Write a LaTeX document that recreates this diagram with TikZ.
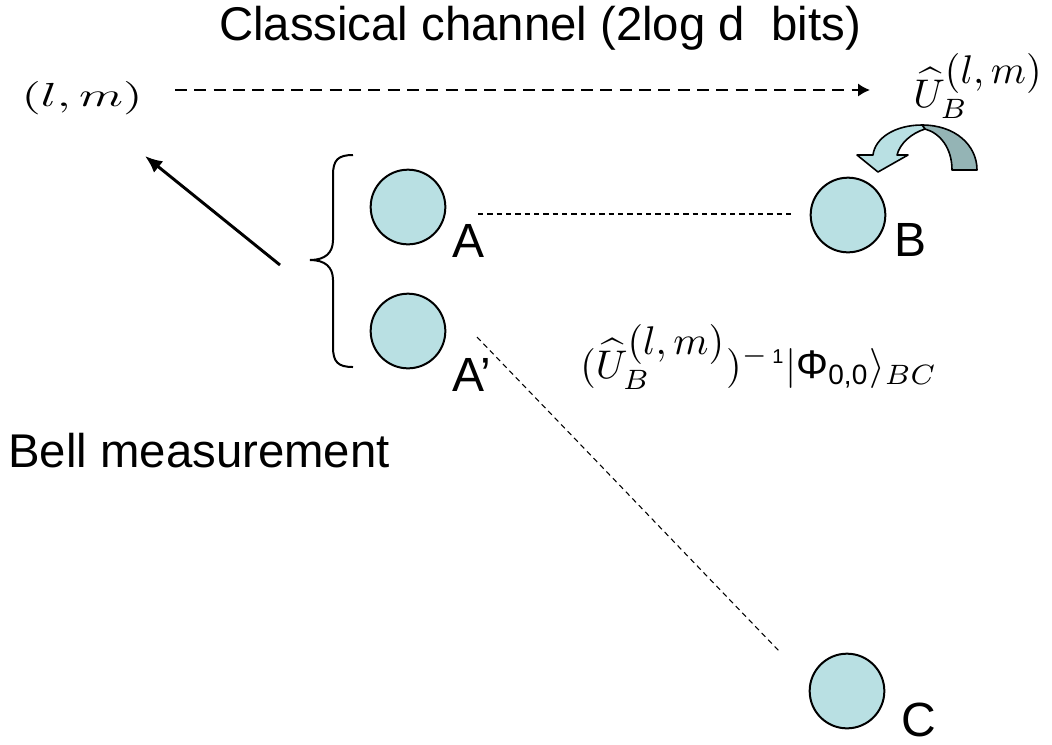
\RequirePackage{fix-cm}
\documentclass[tikz,border=0pt]{standalone}
\usepackage{amsmath}
\usepackage{graphicx}
\usepackage[no-math]{fontspec}
\setmainfont{Liberation Sans}
\usetikzlibrary{arrows.meta}
\definecolor{qubitfill}{RGB}{185,224,227}
\definecolor{turnback}{RGB}{148,180,181}
\tikzset{
  qubit/.style={circle, draw, line width=1.5pt, fill=qubitfill, minimum size=56pt, inner sep=0pt},
  lbl/.style={font=\fontsize{36}{43}\selectfont, inner sep=0pt, anchor=base west},
  bigtext/.style={font=\fontsize{35.5}{42}\selectfont, inner sep=0pt},
  mathlbl/.style={inner sep=0pt, font=\normalsize},
  entangled/.style={line width=0.8pt, dash pattern=on 4pt off 3pt},
  classical/.style={line width=1.5pt, dash pattern=on 9pt off 5.5pt, -{Latex[length=9pt,width=10pt]}},
  measure/.style={line width=2.2pt, -{Latex[length=13pt,width=11pt]}},
  brace/.style={line width=1.5pt}
}
\begin{document}
\begin{tikzpicture}[x=0.75pt,y=-0.75pt]
\useasboundingbox (0,0) rectangle (1052,744);

% qubits
\node[qubit] (A) at (408,207) {};
\node[qubit] (A2) at (408,331) {};
\node[qubit] (B) at (848,215) {};
\node[qubit] (C) at (847,691) {};
\node[lbl] (la) at (452,257) {A};
\node[lbl] (la2) at (452,391) {A’};
\node[lbl] (lb) at (894,256) {B};
\node[lbl] (lc) at (901,736) {C};

% entanglement
\coordinate (ab1) at (478,214);
\coordinate (ab2) at (792,214);
\draw[entangled] (ab1) -- (ab2);
\coordinate (ac1) at (477,337);
\coordinate (ac2) at (780,652);
\draw[entangled] (ac1) -- (ac2);

% classical message
\node[bigtext, anchor=base] (title) at (540,40) {Classical channel (2log d\ \ bits)};
\node[mathlbl] (lm) at (82,98) {\scalebox{3.75}[2.5]{$(l,m)$}};
\node[mathlbl, anchor=base west] (ub) at (913,107)
  {\scalebox{3}{$\widehat{U}_{B}^{\textstyle (l,m)}$}};
\coordinate (cc1) at (175,90);
\coordinate (cc2) at (870,90);
\draw[classical] (cc1) -- (cc2);

% Bell measurement
\draw[brace] (353,155) .. controls (338,155) and (333,160) .. (333,175) -- (333,240)
  .. controls (333,253) and (325,260) .. (310,260)
  .. controls (325,260) and (333,267) .. (333,280) -- (333,347)
  .. controls (333,362) and (338,367) .. (353,367);
\coordinate (m1) at (280,265);
\coordinate (m2) at (145,156);
\draw[measure] (m1) -- (m2);
\node[bigtext, anchor=base west] (bell) at (8,467) {Bell measurement};

% correction on B
\filldraw[fill=turnback, line width=1.2pt, line join=round]
  (922,125) .. controls (955,125) and (977,145) .. (977,170) -- (952,170)
  .. controls (952,148) and (940,133) .. (925,129) -- cycle;
\filldraw[fill=qubitfill, line width=1.2pt, line join=round]
  (922,125) .. controls (895,125) and (875,138) .. (873,155) -- (857,155) -- (878,172)
  -- (908,155) -- (897,155) .. controls (900,143) and (912,133) .. (925,129) -- cycle;

\node[mathlbl, anchor=base west] (state) at (580,378)
  {\scalebox{3}{$(\widehat{U}_{B}^{\textstyle (l,m)})^{-\,\text{\tiny 1}}|\text{Φ}_{\text{0,0}}\rangle_{BC}$}};
\end{tikzpicture}
\end{document}
